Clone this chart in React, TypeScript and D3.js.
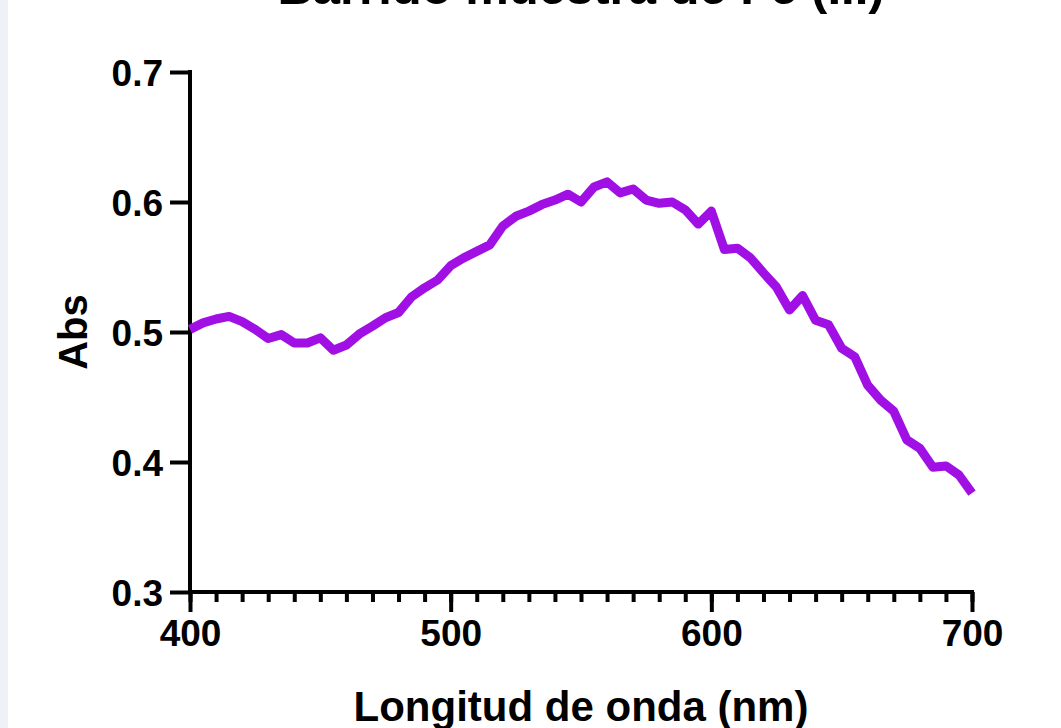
import React, { useEffect, useRef } from 'react';
import * as d3 from 'd3';

// wavelength scan, 5 nm steps
const wavelengths: number[] = d3.range(400, 701, 5);
const absorbance: number[] = [
  0.502, 0.507, 0.51, 0.512, 0.508, 0.502, 0.495, 0.498, 0.4915, 0.4915,
  0.4955, 0.486, 0.49, 0.4985, 0.5045, 0.511, 0.515, 0.527, 0.534, 0.54,
  0.551, 0.557, 0.562, 0.567, 0.5815, 0.589, 0.593, 0.598, 0.6015, 0.606,
  0.6, 0.6115, 0.6155, 0.607, 0.61, 0.6015, 0.599, 0.6, 0.594, 0.583,
  0.593, 0.5635, 0.5645, 0.557, 0.5455, 0.5345, 0.517, 0.528, 0.509, 0.5055,
  0.4875, 0.481, 0.459, 0.4475, 0.439, 0.417, 0.4105, 0.396, 0.397, 0.39,
  0.376,
];
const xTicks: number[] = [400, 500, 600, 700];
const xMinorTicks: number[] = d3.range(400, 701, 10);
const yTicks: number[] = [0.3, 0.4, 0.5, 0.6, 0.7];

const title = 'Barrido muestra de Fe (III)';
const xTitle = 'Longitud de onda (nm)';
const yTitle = 'Abs';

export default function App() {
  const ref = useRef<SVGSVGElement>(null);

  useEffect(() => {
    document.body.style.margin = '0';
    const width = 1061;
    const height = 728;
    const svg = d3.select(ref.current);
    svg.selectAll('*').remove();
    svg.attr('width', width).attr('height', height);

    const font = '"Liberation Sans", Arial, Helvetica, sans-serif';

    svg.append('rect').attr('width', width).attr('height', height).attr('fill', '#fff');
    svg.append('rect').attr('width', 8).attr('height', height).attr('fill', '#f0f0f7');

    const x = d3.scaleLinear().domain([400, 700]).range([190, 972]);
    const y = d3.scaleLinear().domain([0.3, 0.7]).range([592, 72]);

    // title (cut off by the top edge, as in the original screenshot)
    svg
      .append('text')
      .attr('x', 581)
      .attr('y', 4)
      .attr('text-anchor', 'middle')
      .attr('font-family', font)
      .attr('font-weight', 'bold')
      .attr('font-size', 49)
      .text(title);

    // y axis
    const yAxis = d3
      .axisLeft(y)
      .tickValues(yTicks)
      .tickFormat(d3.format('.1f'))
      .tickSize(20)
      .tickPadding(7);
    const gy = svg.append('g').attr('transform', `translate(${x(400)},0)`).call(yAxis);
    gy.select('.domain').remove();
    gy.selectAll('line').attr('stroke', '#000').attr('stroke-width', 4);
    gy.selectAll('text')
      .attr('font-family', font)
      .attr('font-weight', 'bold')
      .attr('font-size', 37)
      .attr('fill', '#000')
      .attr('dy', '0.36em');

    // x axis: minor ticks, then major ticks with labels
    const gxMinor = svg
      .append('g')
      .attr('transform', `translate(0,${y(0.3)})`)
      .call(d3.axisBottom(x).tickValues(xMinorTicks).tickSize(10).tickFormat(() => ''));
    gxMinor.select('.domain').remove();
    gxMinor.selectAll('line').attr('stroke', '#000').attr('stroke-width', 4);

    const gx = svg
      .append('g')
      .attr('transform', `translate(0,${y(0.3)})`)
      .call(d3.axisBottom(x).tickValues(xTicks).tickSize(20).tickPadding(8).tickFormat(d3.format('d')));
    gx.select('.domain').remove();
    gx.selectAll('line').attr('stroke', '#000').attr('stroke-width', 4);
    gx.selectAll('text')
      .attr('font-family', font)
      .attr('font-weight', 'bold')
      .attr('font-size', 37)
      .attr('fill', '#000');

    // axis lines
    svg
      .append('path')
      .attr('d', `M${x(400)},${y(0.7)}V${y(0.3)}H${x(700)}`)
      .attr('fill', 'none')
      .attr('stroke', '#000')
      .attr('stroke-width', 4)
      .attr('stroke-linecap', 'square');

    // axis titles
    svg
      .append('text')
      .attr('x', 581)
      .attr('y', 721)
      .attr('text-anchor', 'middle')
      .attr('font-family', font)
      .attr('font-weight', 'bold')
      .attr('font-size', 42)
      .text(xTitle);

    svg
      .append('text')
      .attr('transform', `translate(87,${y(0.5)}) rotate(-90)`)
      .attr('text-anchor', 'middle')
      .attr('font-family', font)
      .attr('font-weight', 'bold')
      .attr('font-size', 40)
      .text(yTitle);

    // spectrum
    const pts = wavelengths.map((w, i) => [w, absorbance[i]] as [number, number]);
    const line = d3
      .line<[number, number]>()
      .x((d) => x(d[0]))
      .y((d) => y(d[1]));
    svg
      .append('path')
      .datum(pts)
      .attr('fill', 'none')
      .attr('stroke', '#a010e4')
      .attr('stroke-width', 9)
      .attr('stroke-linejoin', 'round')
      .attr('d', line);
  }, []);

  return <svg ref={ref} style={{ display: 'block' }}></svg>;
}
